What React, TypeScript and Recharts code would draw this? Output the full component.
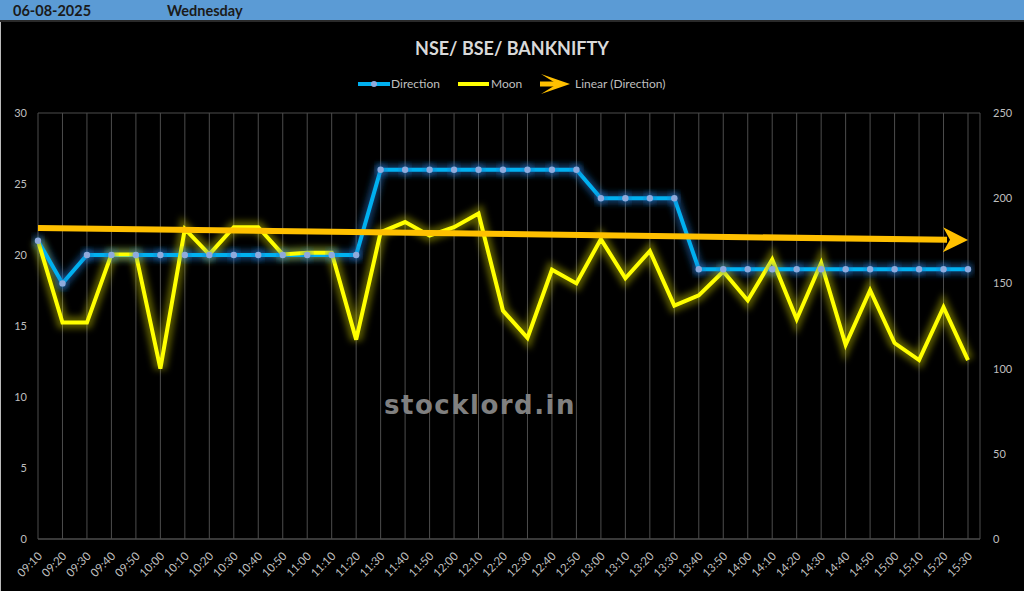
import { LineChart, Line, XAxis, YAxis, CartesianGrid, ReferenceLine, Legend } from 'recharts';

const times = [
  '09:10', '09:20', '09:30', '09:40', '09:50', '10:00', '10:10', '10:20', '10:30', '10:40',
  '10:50', '11:00', '11:10', '11:20', '11:30', '11:40', '11:50', '12:00', '12:10', '12:20',
  '12:30', '12:40', '12:50', '13:00', '13:10', '13:20', '13:30', '13:40', '13:50', '14:00',
  '14:10', '14:20', '14:30', '14:40', '14:50', '15:00', '15:10', '15:20', '15:30',
];

const direction = [
  21, 18, 20, 20, 20, 20, 20, 20, 20, 20,
  20, 20, 20, 20, 26, 26, 26, 26, 26, 26,
  26, 26, 26, 24, 24, 24, 24, 19, 19, 19,
  19, 19, 19, 19, 19, 19, 19, 19, 19,
];

const moon = [
  175, 127, 127, 167, 167, 100, 182, 167, 183, 183,
  167, 168, 168, 117, 180, 186, 178, 183, 191, 134,
  118, 158, 150, 176, 153, 169, 137, 143, 157, 140,
  164, 129, 162, 114, 146, 115, 105, 136, 105,
];

// Linear (Direction) trendline, start / end
const trendStart = 21.9;
const trendEnd = 21.05;

const leftTicks = [0, 5, 10, 15, 20, 25, 30];
const rightTicks = [0, 50, 100, 150, 200, 250];

const data = times.map((t, i) => ({ time: t, direction: direction[i], moon: moon[i] }));

const FONT = 'Lato, "Open Sans", sans-serif';
const LABEL = '#BFBFBF';

const XTick = ({ x, y, payload }: any) => (
  <g transform={`translate(${x + 2},${y + 15})`}>
    <text textAnchor="end" transform="rotate(-45)" fill={LABEL} fontSize={11.5} fontFamily={FONT} dy="0.35em">
      {payload.value}
    </text>
  </g>
);

const TrendArrow = (p: any) => {
  const { x1, y1, x2, y2 } = p;
  const head = 25;
  const ang = Math.atan2(y2 - y1, x2 - x1);
  const bx = x2 - head * Math.cos(ang);
  const by = y2 - head * Math.sin(ang);
  const nx = -Math.sin(ang) * 12.5;
  const ny = Math.cos(ang) * 12.5;
  return (
    <g>
      <line x1={x1} y1={y1} x2={bx + 4} y2={by} stroke="#FFC000" strokeWidth={6} />
      <polygon points={`${x2},${y2} ${bx + nx},${by + ny} ${bx + 7},${by} ${bx - nx},${by - ny}`} fill="#FFC000" />
    </g>
  );
};

const LegendBox = () => (
  <svg width={1024} height={20} style={{ display: 'block' }}>
    <line x1={358} y1={10} x2={390} y2={10} stroke="#00B0F0" strokeWidth={4} />
    <circle cx={374} cy={10} r={3} fill="#8FAADC" />
    <text x={391} y={14} fill={LABEL} fontSize={12} fontFamily={FONT}>Direction</text>
    <line x1={458} y1={10} x2={489} y2={10} stroke="#FFFF00" strokeWidth={4} />
    <text x={491} y={14} fill={LABEL} fontSize={12} fontFamily={FONT}>Moon</text>
    <line x1={540} y1={10} x2={560} y2={10} stroke="#FFC000" strokeWidth={5} />
    <polygon points="570,10 541,0 557,10 541,20" fill="#FFC000" />
    <text x={575} y={14} fill={LABEL} fontSize={12} fontFamily={FONT}>Linear (Direction)</text>
  </svg>
);

export default function App() {
  return (
    <div style={{ position: 'absolute', left: 0, top: 0, width: 1024, height: 591, background: '#000', overflow: 'hidden' }}>
      <LineChart width={1024} height={591} data={data} margin={{ top: 93, right: 0, left: 8, bottom: 0 }}>
        <defs>
          <filter id="glowY" x="-5%" y="-20%" width="110%" height="140%">
            <feGaussianBlur stdDeviation="3" />
          </filter>
          <filter id="glowB" x="-5%" y="-20%" width="110%" height="140%">
            <feGaussianBlur stdDeviation="3" />
          </filter>
        </defs>
        <CartesianGrid stroke="#4d4d4d" strokeWidth={1} />
        <XAxis
          dataKey="time"
          interval={0}
          padding={{ left: 0, right: 12 }}
          height={52}
          tick={<XTick />}
          tickLine={false}
          tickSize={0}
          tickMargin={0}
          axisLine={{ stroke: '#4d4d4d' }}
        />
        <YAxis
          yAxisId="left"
          width={30}
          domain={[0, 30]}
          ticks={leftTicks}
          axisLine={false}
          tickLine={false}
          tickMargin={5}
          tick={{ fill: LABEL, fontSize: 11, fontFamily: FONT }}
        />
        <YAxis
          yAxisId="right"
          orientation="right"
          width={44}
          domain={[0, 250]}
          ticks={rightTicks}
          axisLine={false}
          tickLine={false}
          tickMargin={7}
          tick={{ fill: LABEL, fontSize: 11, fontFamily: FONT, textAnchor: 'start' }}
        />
        <Legend verticalAlign="top" height={20} wrapperStyle={{ top: 74, left: 0, width: 1024 }} content={<LegendBox />} />
        <Line
          yAxisId="left"
          dataKey="direction"
          stroke="#1F6FC0"
          strokeOpacity={0.55}
          strokeWidth={10}
          dot={{ r: 6, fill: '#1F6FC0', fillOpacity: 0.5, stroke: 'none' }}
          filter="url(#glowB)"
          legendType="none"
          isAnimationActive={false}
        />
        <Line
          yAxisId="right"
          dataKey="moon"
          stroke="#FFFF00"
          strokeOpacity={0.35}
          strokeWidth={12}
          dot={false}
          filter="url(#glowY)"
          legendType="none"
          isAnimationActive={false}
        />
        <Line
          yAxisId="left"
          dataKey="direction"
          name="Direction"
          stroke="#00B0F0"
          strokeWidth={4}
          dot={{ r: 3.2, fill: '#8FAADC', stroke: 'none' }}
          isAnimationActive={false}
        />
        <Line
          yAxisId="right"
          dataKey="moon"
          name="Moon"
          stroke="#FFFF00"
          strokeWidth={4}
          dot={false}
          isAnimationActive={false}
        />
        <ReferenceLine
          yAxisId="left"
          segment={[{ x: times[0], y: trendStart }, { x: times[times.length - 1], y: trendEnd }]}
          shape={<TrendArrow />}
        />
      </LineChart>

      <div style={{ position: 'absolute', left: 0, top: 0, width: 1024, height: 20, background: '#5B9BD5', borderBottom: '2px solid #2a2a2a', fontFamily: FONT, fontWeight: 700, fontSize: 14.5, color: '#1a1a1a' }}>
        <span style={{ position: 'absolute', left: 13, top: 2 }}>06-08-2025</span>
        <span style={{ position: 'absolute', left: 167, top: 2 }}>Wednesday</span>
      </div>
      <div style={{ position: 'absolute', left: 0, top: 22, width: 1, height: 569, background: '#bbb' }} />
      <div style={{ position: 'absolute', left: 0, top: 37, width: 1024, textAlign: 'center', fontFamily: FONT, fontWeight: 700, fontSize: 18, color: '#D9D9D9' }}>
        NSE/ BSE/ BANKNIFTY
      </div>
      <div style={{ position: 'absolute', left: 384, top: 390, fontFamily: '"DejaVu Sans", sans-serif', fontWeight: 700, fontSize: 26, color: '#808080', letterSpacing: 1.5 }}>
        stocklord.in
      </div>
    </div>
  );
}
